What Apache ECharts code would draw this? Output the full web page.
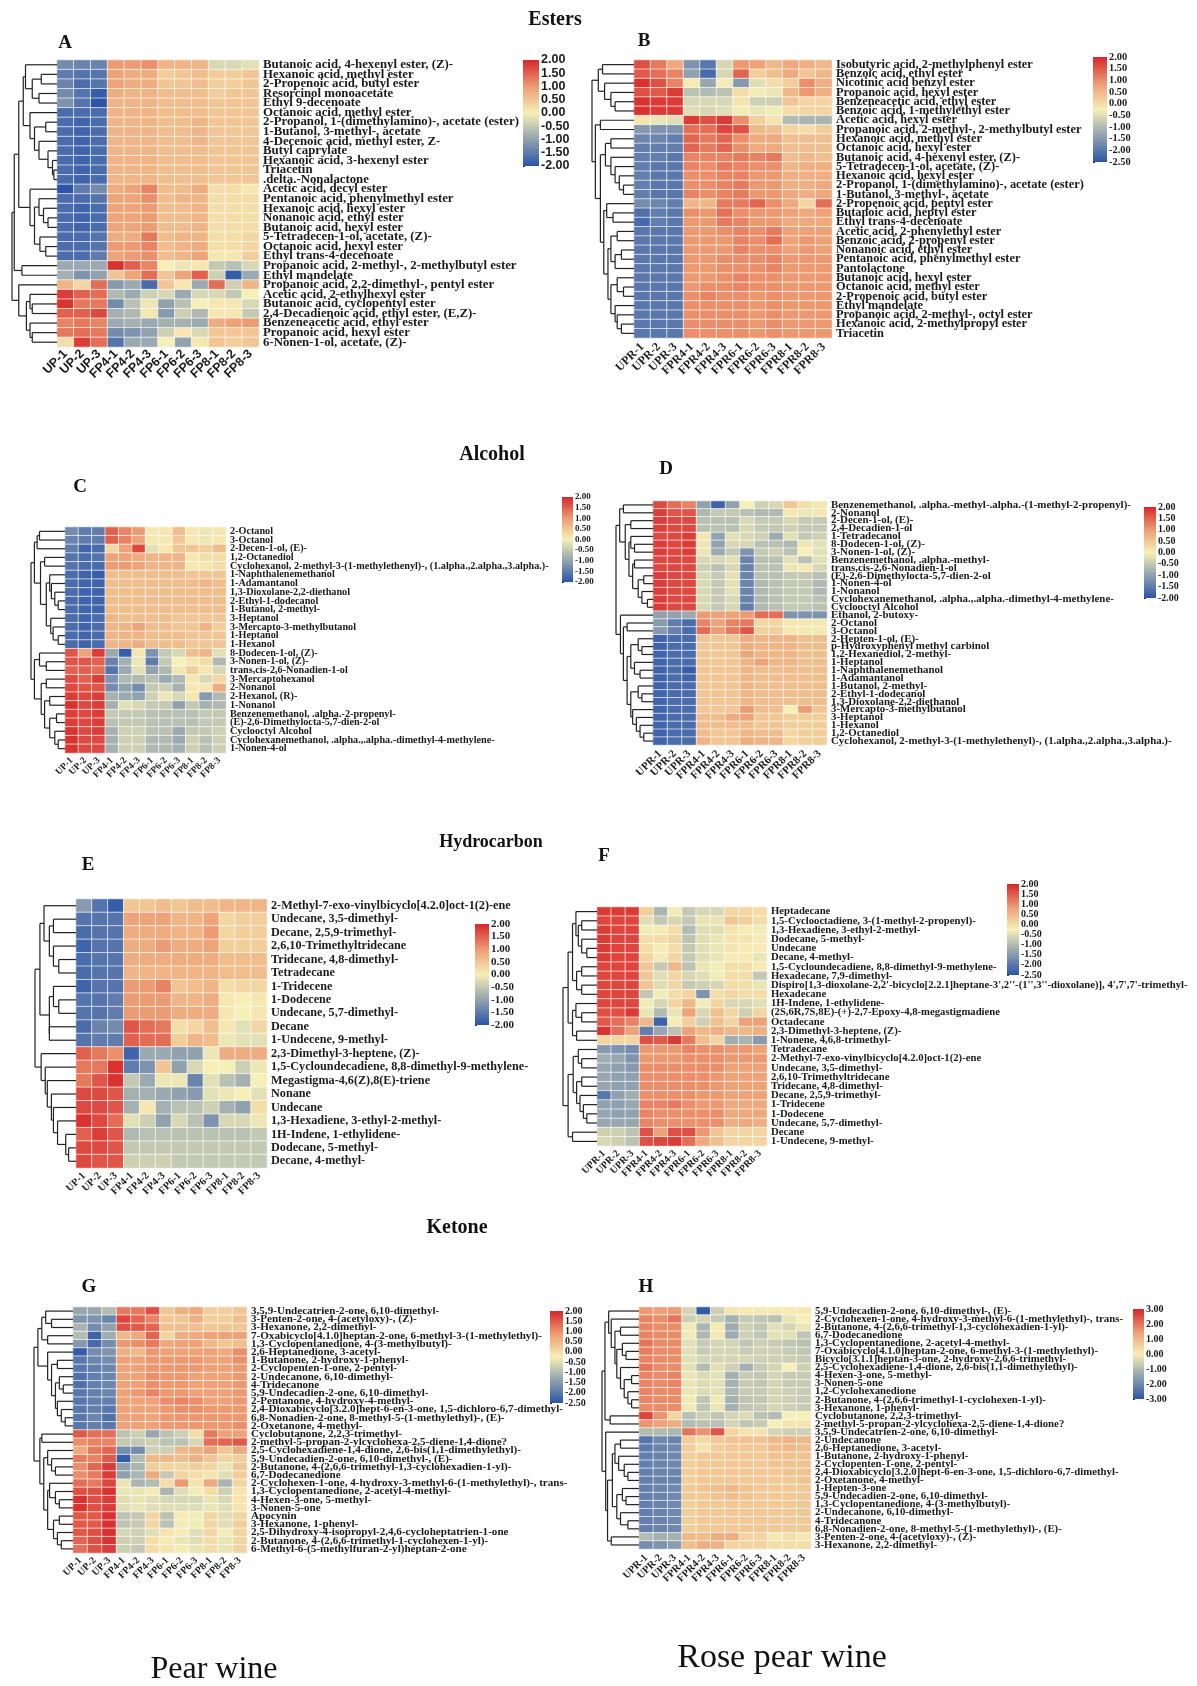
<!DOCTYPE html>
<html><head><meta charset="utf-8">
<style>html,body{margin:0;padding:0;background:#fff}#c{width:1197px;height:1686px}</style>
<script src="https://cdn.jsdelivr.net/npm/echarts@6/dist/echarts.min.js"></script>
</head><body><div id="c"></div>
<script>
const samplesPear=["UP-1","UP-2","UP-3","FP4-1","FP4-2","FP4-3","FP6-1","FP6-2","FP6-3","FP8-1","FP8-2","FP8-3"];
const samplesRose=["UPR-1","UPR-2","UPR-3","FPR4-1","FPR4-2","FPR4-3","FPR6-1","FPR6-2","FPR6-3","FPR8-1","FPR8-2","FPR8-3"];

const rowsA=["Butanoic acid, 4-hexenyl ester, (Z)-","Hexanoic acid, methyl ester","2-Propenoic acid, butyl ester","Resorcinol monoacetate","Ethyl 9-decenoate","Octanoic acid, methyl ester","2-Propanol, 1-(dimethylamino)-, acetate (ester)","1-Butanol, 3-methyl-, acetate","4-Decenoic acid, methyl ester, Z-","Butyl caprylate","Hexanoic acid, 3-hexenyl ester","Triacetin",".delta.-Nonalactone","Acetic acid, decyl ester","Pentanoic acid, phenylmethyl ester","Hexanoic acid, hexyl ester","Nonanoic acid, ethyl ester","Butanoic acid, hexyl ester","5-Tetradecen-1-ol, acetate, (Z)-","Octanoic acid, hexyl ester","Ethyl trans-4-decenoate","Propanoic acid, 2-methyl-, 2-methylbutyl ester","Ethyl mandelate","Propanoic acid, 2,2-dimethyl-, pentyl ester","Acetic acid, 2-ethylhexyl ester","Butanoic acid, cyclopentyl ester","2,4-Decadienoic acid, ethyl ester, (E,Z)-","Benzeneacetic acid, ethyl ester","Propanoic acid, hexyl ester","6-Nonen-1-ol, acetate, (Z)-"];
const valuesA=[
[-1.3,-1.4,-1.4,1,1,1.1,.7,.7,.7,-.3,-.3,-.2],
[-1.5,-1.6,-1.6,.9,.8,.8,.4,.5,.6,.4,.4,.5],
[-1.4,-1.7,-1.6,.9,.8,.8,.5,.5,.6,.4,.4,.5],
[-1.3,-1.6,-1.9,.8,.7,.7,.6,.6,.6,.4,.5,.5],
[-1.2,-1.6,-2,.7,.7,.7,.6,.6,.6,.5,.5,.5],
[-1.7,-1.7,-1.7,.7,.7,.7,.6,.6,.6,.5,.5,.5],
[-1.7,-1.8,-1.7,.7,.7,.7,.6,.6,.7,.5,.5,.5],
[-1.7,-1.8,-1.7,.7,.7,.7,.6,.6,.7,.5,.5,.5],
[-1.7,-1.8,-1.7,.7,.7,.7,.6,.6,.7,.5,.5,.5],
[-1.7,-1.8,-1.7,.7,.7,.7,.6,.6,.6,.5,.5,.5],
[-1.7,-1.8,-1.7,.7,.7,.7,.6,.6,.6,.5,.5,.5],
[-1.7,-1.8,-1.7,.7,.7,.7,.6,.6,.6,.5,.5,.5],
[-1.7,-1.8,-1.7,.7,.7,.7,.6,.6,.6,.5,.5,.5],
[-2,-1.5,-1.3,.8,.9,1.2,.6,.6,.8,.2,.2,.1],
[-1.7,-1.7,-1.6,.9,.9,1.1,.6,.7,.7,.2,.2,.2],
[-1.7,-1.8,-1.7,.9,.9,1,.6,.6,.7,.2,.2,.2],
[-1.7,-1.8,-1.7,.9,.9,1,.6,.6,.7,.2,.2,.2],
[-1.7,-1.8,-1.7,.9,.9,1,.6,.6,.7,.2,.2,.2],
[-1.7,-1.7,-1.6,.8,.8,1.3,.6,.7,.7,.2,.2,.3],
[-1.7,-1.7,-1.6,1,1,1.2,.6,.7,.8,.2,.2,.3],
[-1.7,-1.7,-1.5,.9,1,1.1,.6,.7,.9,.1,.1,.4],
[-.9,-.9,-.9,1.9,1.5,1.2,0,-.1,.1,-.5,-.6,-.3],
[-.8,-1.2,-1,.5,.9,1.4,.5,.9,1.5,-.4,-1.9,-.9],
[.7,.3,1.4,-1.1,-.9,-1.7,.5,.1,-.9,1.4,-.4,.7],
[1.8,1.5,1.4,-.7,-.9,-.4,-.3,-.9,-.3,-.3,-.5,0],
[1.9,1.3,1.3,-1.3,-.6,-.1,-1,-.6,0,.1,.1,-.3],
[1.5,1.5,1.7,-.8,-.7,.1,-1.1,-.4,-.7,.1,.1,-.5],
[1.2,1.3,1.2,-.9,-.8,-.9,-.8,-.8,-.9,.8,.9,1],
[1.3,1.4,1.3,-1.3,-1.2,-1,-.4,.1,-.3,.5,.5,.5],
[.2,1.8,1.4,-1.6,-.9,-.9,0,-1,.1,.5,.4,.5]];
const treeA=[1,[.95,[.85,[.75,[.7,0,[.55,[.35,0,0],[.4,0,0]]],[.6,0,[.5,[.25,0,0],[.4,0,[.2,0,[.1,0,[.07,0,0]]]]]]],[.6,0,[.5,[.4,0,[.3,0,[.2,0,0]]],[.38,0,[.25,0,0]]]]],[.78,0,0]],[.85,0,[.68,[.6,0,[.55,0,0]],[.6,0,[.55,0,0]]]]];

const rowsB=["Isobutyric acid, 2-methylphenyl ester","Benzoic acid, ethyl ester","Nicotinic acid benzyl ester","Propanoic acid, hexyl ester","Benzeneacetic acid, ethyl ester","Benzoic acid, 1-methylethyl ester","Acetic acid, hexyl ester","Propanoic acid, 2-methyl-, 2-methylbutyl ester","Hexanoic acid, methyl ester","Octanoic acid, hexyl ester","Butanoic acid, 4-hexenyl ester, (Z)-","5-Tetradecen-1-ol, acetate, (Z)-","Hexanoic acid, hexyl ester","2-Propanol, 1-(dimethylamino)-, acetate (ester)","1-Butanol, 3-methyl-, acetate","2-Propenoic acid, pentyl ester","Butanoic acid, heptyl ester","Ethyl trans-4-decenoate","Acetic acid, 2-phenylethyl ester","Benzoic acid, 2-propenyl ester","Nonanoic acid, ethyl ester","Pentanoic acid, phenylmethyl ester","Pantolactone","Butanoic acid, hexyl ester","Octanoic acid, methyl ester","2-Propenoic acid, butyl ester","Ethyl mandelate","Propanoic acid, 2-methyl-, octyl ester","Hexanoic acid, 2-methylpropyl ester","Triacetin"];
const valuesB=[
[1.6,1.2,.7,-1.6,-2,-.6,.9,.8,.5,.7,.6,.5],
[1.5,1.3,1.1,-1.4,-2.2,-.6,1.4,.2,.4,.7,.3,.5],
[1.9,1.6,1.1,-.2,-1.3,-.3,-1.5,-.5,0,.2,1,.6],
[1.6,1.5,1.8,-.9,-1,-.9,0,-.3,-.4,.5,.9,.6],
[1.9,1.8,1.8,-.6,-.6,-.6,-.1,-.7,-.7,.3,.1,.1],
[1.9,1.8,1.8,-.5,-.6,-.5,-.3,-.4,-.3,0,.1,.1],
[-.1,-.4,-.5,1.8,1.6,1.8,1,.2,-.1,-1,-1.1,-1.1],
[-1.5,-1.6,-1.6,1.3,1.3,1.7,1.6,.5,.4,.1,0,.2],
[-1.8,-1.8,-1.9,1.4,1.2,1.4,1,.7,.7,.4,.4,.4],
[-1.9,-1.9,-1.9,1.4,1.2,1.4,1,.7,.7,.4,.4,.4],
[-1.9,-1.9,-2,1.1,1.1,1.1,1.2,1.1,1.2,.4,.5,.4],
[-1.9,-2,-2,1.1,1,1.2,1.1,1,1,.5,.6,.6],
[-1.9,-2,-2,1,1,1.1,1.1,.9,.9,.6,.6,.6],
[-1.9,-2,-2,1,1,1.1,1.2,.9,.9,.6,.6,.7],
[-1.9,-2,-2,1.1,1,1.1,1.2,.9,.9,.7,.6,.7],
[-1.7,-1.8,-1.9,.5,.5,1.2,1.2,1.4,1,.7,.1,1.3],
[-2.1,-1.9,-2,1,.9,1.3,1,.9,.9,.8,.7,.8],
[-2.2,-1.9,-2,.9,.9,1.2,1.1,.9,.9,.7,.7,.7],
[-2,-2,-2,.9,.9,1,1.1,1,1.2,.8,.8,.8],
[-2,-2,-2,.9,.9,.9,1.1,1,1.3,.8,.9,.8],
[-2,-2,-2,.9,.9,.9,1.1,1,1,.8,.9,.8],
[-2,-2,-2,.9,.9,1,1,1,1.1,.9,.9,.9],
[-2,-2,-2,.9,.9,1,1,1,1.1,.9,.9,.9],
[-2,-2,-2,.9,.9,1,1.1,1,1,.9,.9,.9],
[-2,-2,-2,.9,1,1,1.1,1,1,.9,.9,.9],
[-2,-2,-2,1,1.1,1,1,.9,1,.9,.9,.9],
[-2,-2,-2,1,1,1,1,.9,1,.9,.9,.9],
[-2,-2,-2,1,1,1,1,.9,1,.9,.9,.9],
[-2,-2,-2,1,1,1,1,.9,1,.9,.9,.9],
[-2,-2,-2,1,1,1,1,.9,1,.9,.9,.9]];
const treeB=[1,[.85,[.75,0,0],[.7,0,[.55,0,[.45,0,0]]]],[.92,[.8,0,0],[.8,[.68,[.55,0,0],[.55,0,[.45,0,[.35,0,[.25,0,0]]]]],[.72,[.65,0,[.5,0,0]],[.62,[.55,[.4,0,0],[.45,[.3,0,0],0]],[.55,[.4,0,[.25,0,0]],[.45,0,[.4,0,[.3,0,0]]]]]]]]];

const rowsC=["2-Octanol","3-Octanol","2-Decen-1-ol, (E)-","1,2-Octanediol","Cyclohexanol, 2-methyl-3-(1-methylethenyl)-, (1.alpha.,2.alpha.,3.alpha.)-","1-Naphthalenemethanol","1-Adamantanol","1,3-Dioxolane-2,2-diethanol","2-Ethyl-1-dodecanol","1-Butanol, 2-methyl-","3-Heptanol","3-Mercapto-3-methylbutanol","1-Heptanol","1-Hexanol","8-Dodecen-1-ol, (Z)-","3-Nonen-1-ol, (Z)-","trans,cis-2,6-Nonadien-1-ol","3-Mercaptohexanol","2-Nonanol","2-Hexanol, (R)-","1-Nonanol","Benzenemethanol, .alpha.-2-propenyl-","(E)-2,6-Dimethylocta-5,7-dien-2-ol","Cyclooctyl Alcohol","Cyclohexanemethanol, .alpha.,.alpha.-dimethyl-4-methylene-","1-Nonen-4-ol"];
const valuesC=[
[-1.3,-1.5,-1.5,1.5,1.2,1,.1,.1,.6,.1,-.1,.1],
[-1.4,-1.5,-1.5,1.5,1.2,.9,.1,.1,.5,.1,-.1,.1],
[-1.5,-1.8,-1.7,.3,.9,1.7,-.2,.1,.5,.5,.4,.6],
[-1.6,-1.7,-1.6,.9,.9,.8,.7,.7,.7,.1,.2,.2],
[-1.6,-1.7,-1.7,1,1,.9,.7,.7,.7,.1,.1,.2],
[-1.7,-1.8,-1.9,.6,.6,.6,.6,.6,.6,.5,.5,.5],
[-1.7,-1.8,-1.8,.6,.6,.6,.6,.6,.6,.6,.7,.6],
[-1.7,-1.8,-1.8,.6,.6,.6,.6,.6,.6,.6,.6,.6],
[-1.7,-1.8,-1.8,.6,.6,.6,.6,.6,.6,.6,.6,.6],
[-1.7,-1.8,-1.8,.6,.6,.6,.6,.6,.6,.6,.6,.6],
[-1.7,-1.8,-1.7,.7,.6,.6,.6,.6,.5,.5,.5,.5],
[-1.7,-1.8,-1.7,.7,.7,.9,.6,.6,.5,.5,.7,.4],
[-1.7,-1.8,-1.7,.7,.7,.7,.6,.6,.6,.5,.5,.5],
[-1.7,-1.8,-1.7,.7,.7,.8,.6,.6,.6,.5,.5,.5],
[1.6,.9,1.8,-.9,-1.9,.1,-1.2,-.5,-.3,.6,.7,-.2],
[1.6,1.6,1.5,-1.4,-.8,-.1,-1.5,-.5,0,.1,.2,-.7],
[1.5,1.5,1.4,-1.6,-.9,-.2,-1,-.7,-.1,.4,.1,-.3],
[1.7,1.5,1.8,-1.2,-.7,-.7,-.6,-.9,-.7,.1,-.3,.3],
[1.7,1.6,1.6,-1.3,-1,-1.3,-.5,-.4,-.8,.1,.1,.8],
[1.8,1.7,1.8,-.8,-.9,-1,-.4,-.1,-.3,.1,-1.1,-.7],
[1.9,1.7,1.8,-.8,-.2,-.3,-.5,-.5,-1,-.5,-.8,-.7],
[1.8,1.7,1.8,-.5,-.5,-.5,-.6,-.6,-.6,-.6,-.5,-.5],
[1.8,1.7,1.8,-.6,-.5,-.5,-.6,-.6,-.6,-.6,-.5,-.5],
[1.9,1.7,1.8,-.8,-.4,-.4,-.6,-.6,-.9,-.5,-.5,-.4],
[1.9,1.7,1.7,-.8,-.4,-.4,-.7,-.7,-.9,-.4,-.6,-.4],
[1.9,1.7,1.7,-.8,-.4,-.4,-.7,-.7,-.8,-.4,-.6,-.4]];
const treeC=[1,[.9,[.82,[.75,0,0],0],[.72,[.6,0,0],[.55,[.45,0,[.4,0,[.3,0,[.2,0,0]]]],[.42,0,[.35,0,[.2,0,0]]]]]],[.9,[.75,0,[.55,0,0]],[.7,[.55,0,0],[.6,[.45,0,0],[.45,[.25,0,0],[.3,0,[.2,0,0]]]]]]];

const rowsD=["Benzenemethanol, .alpha.-methyl-.alpha.-(1-methyl-2-propenyl)-","2-Nonanol","2-Decen-1-ol, (E)-","2,4-Decadien-1-ol","1-Tetradecanol","8-Dodecen-1-ol, (Z)-","3-Nonen-1-ol, (Z)-","Benzenemethanol, .alpha.-methyl-","trans,cis-2,6-Nonadien-1-ol","(E)-2,6-Dimethylocta-5,7-dien-2-ol","1-Nonen-4-ol","1-Nonanol","Cyclohexanemethanol, .alpha.,.alpha.-dimethyl-4-methylene-","Cyclooctyl Alcohol","Ethanol, 2-butoxy-","2-Octanol","3-Octanol","2-Hepten-1-ol, (E)-","p-Hydroxyphenyl methyl carbinol","1,2-Hexanediol, 2-methyl-","1-Heptanol","1-Naphthalenemethanol","1-Adamantanol","1-Butanol, 2-methyl-","2-Ethyl-1-dodecanol","1,3-Dioxolane-2,2-diethanol","3-Mercapto-3-methylbutanol","3-Heptanol","1-Hexanol","1,2-Octanediol","Cyclohexanol, 2-methyl-3-(1-methylethenyl)-, (1.alpha.,2.alpha.,3.alpha.)-"];
const valuesD=[
[1.7,1.4,1.2,-1,-1.8,-1,0,-.4,-.3,.5,.2,.1],
[1.8,1.6,1.6,-.7,-.5,-.5,-.6,-.7,-.7,.1,-.1,.1],
[1.8,1.7,1.7,-.6,-.6,-.6,-.3,-.5,-.5,-.3,-.5,-.5],
[1.8,1.7,1.7,-.6,-.6,-.6,-.3,-.5,-.5,-.4,-.5,-.5],
[1.7,1.7,1.8,.1,-1,-.2,-.3,-.4,-.9,-.2,-.5,-.4],
[1.8,1.7,1.8,-.1,-1,-.3,-.3,-.6,-.6,-.7,-.1,-.2],
[1.8,1.7,1.8,-.1,-.9,-.5,-1.2,-.5,-.4,-.6,0,-.2],
[1.7,1.7,1.7,-.3,-.3,-.2,-1.4,-.6,-.6,-.2,-.6,-.2],
[1.7,1.7,1.7,-.4,-.6,-.3,-1.4,-.6,-.6,-.1,.1,-.3],
[1.8,1.7,1.7,-.3,-.5,-.2,-1.4,-.6,-.6,-.5,-.5,-.6],
[1.8,1.7,1.7,-.3,-.5,-.2,-1.4,-.7,-.6,-.5,-.5,-.7],
[1.8,1.7,1.7,-.3,-.5,-.2,-1.4,-.7,-.6,-.5,-.5,-.7],
[1.8,1.7,1.7,-.3,-.5,-.3,-1.4,-.7,-.6,-.5,-.5,-.6],
[1.8,1.7,1.7,-.3,-.5,-.3,-1.5,-.7,-.6,-.5,-.5,-.6],
[-1,-1,-.9,1,.9,.9,1,1.4,1.4,-1.2,-1.2,-1.2],
[-1.1,-1.5,-1.7,1.2,.9,1.2,1.3,.3,.3,.1,.1,.1],
[-1.1,-1.4,-1.7,1.4,1,1.3,1.6,.4,.4,.1,.1,.1],
[-1.8,-1.7,-1.7,.5,.5,.5,.8,.7,.7,.7,.6,.6],
[-1.8,-1.7,-1.7,.5,.5,.5,.8,.7,.7,.7,.6,.6],
[-1.8,-1.7,-1.7,.5,.5,.5,.9,.7,.7,.7,.6,.6],
[-1.8,-1.7,-1.7,.5,.5,.5,.7,.9,.7,.7,.6,.6],
[-1.8,-1.7,-1.9,.5,.5,.5,.7,.6,.6,.6,.6,.6],
[-1.8,-1.7,-1.8,.5,.5,.5,.7,.6,.6,.6,.6,.6],
[-1.8,-1.7,-1.7,.5,.5,.5,.7,.6,.6,.6,.6,.6],
[-1.8,-1.7,-1.7,.5,.5,.5,.7,.6,.6,.6,.6,.6],
[-1.8,-1.7,-1.7,.5,.5,.5,.7,.6,.6,.6,.6,.6],
[-1.8,-1.7,-1.7,.5,.5,.5,1,.6,.6,0,1,.5],
[-1.8,-1.7,-1.7,.6,.6,.8,.9,.5,.5,.4,.4,.4],
[-1.8,-1.7,-1.7,.6,.6,.6,.6,.5,.5,.4,.4,.4],
[-1.8,-1.7,-1.7,.6,.5,.5,.7,.6,.6,.3,.4,.4],
[-1.8,-1.7,-1.7,.7,.5,.5,.8,.7,.7,.3,.4,.4]];
const treeD=[1,[.9,[.8,0,0],[.75,[.6,0,0],[.65,[.6,0,[.5,0,0]],[.55,[.5,0,0],[.4,[.25,0,0],[.3,0,[.15,0,0]]]]]]],[.88,0,[.8,[.7,0,0],[.7,[.6,[.4,0,[.3,0,0]],[.5,0,[.35,0,0]]],[.6,[.4,0,[.3,0,0]],[.55,0,[.45,0,[.35,0,[.25,0,0]]]]]]]]];

const rowsE=["2-Methyl-7-exo-vinylbicyclo[4.2.0]oct-1(2)-ene","Undecane, 3,5-dimethyl-","Decane, 2,5,9-trimethyl-","2,6,10-Trimethyltridecane","Tridecane, 4,8-dimethyl-","Tetradecane","1-Tridecene","1-Dodecene","Undecane, 5,7-dimethyl-","Decane","1-Undecene, 9-methyl-","2,3-Dimethyl-3-heptene, (Z)-","1,5-Cycloundecadiene, 8,8-dimethyl-9-methylene-","Megastigma-4,6(Z),8(E)-triene","Nonane","Undecane","1,3-Hexadiene, 3-ethyl-2-methyl-","1H-Indene, 1-ethylidene-","Dodecane, 5-methyl-","Decane, 4-methyl-"];
const valuesE=[
[-1.1,-1.6,-1.9,.5,.5,.6,.5,.6,.6,.7,.7,.7],
[-1.6,-1.6,-1.6,.9,.9,.9,.7,.7,.9,.3,.4,.4],
[-1.7,-1.6,-1.6,.8,.8,.8,.7,.7,1,.3,.4,.4],
[-1.8,-1.6,-1.6,.8,.8,1,.8,.8,.9,.4,.4,.4],
[-1.7,-1.6,-1.6,.8,.8,.8,.8,.8,.8,.6,.6,.6],
[-1.7,-1.6,-1.6,.7,.7,.7,.7,.7,.7,.6,.6,.6],
[-1.8,-1.6,-1.6,1,1,1.2,.5,.6,.7,.2,.3,.3],
[-1.6,-1.6,-1.5,1,1,1,.7,.7,.8,.1,0,.1],
[-1.6,-1.6,-1.5,1,1,1,.8,.8,.8,.1,0,.1],
[-1.7,-1.4,-1.3,1.6,1.4,1.3,.2,.3,.6,.1,-.2,.3],
[-1.6,-1.5,-1.5,1.5,1.4,1.4,.4,.7,.6,-.1,-.2,-.2],
[1.5,1.3,1.1,-1.8,-.9,-.9,-1,-1,-.1,.8,.8,.8],
[1.3,1.3,1.9,-1.5,-1.2,.5,-1,-.3,0,0,-.4,-.1],
[1.3,1.6,1.9,-.5,-.9,-.1,-.1,-1.4,-.2,-.6,-.8,0],
[1.7,1.7,1.6,-.8,-.8,-.9,-1,-1.1,-.2,-.1,0,-.2],
[1.7,1.7,1.6,-.8,.1,-.8,-.6,-.6,-.4,-.8,-1,.2],
[1.9,1.7,1.4,-.2,-.4,-1,-.3,-.6,-1.2,-.3,-.3,-.1],
[1.5,1.8,1.6,-.7,-.6,-.6,-.6,-.6,-.6,-.6,-.6,-.5],
[1.7,1.7,1.6,-.5,-.5,-.5,-.5,-.5,-.5,-.5,-.5,-.5],
[1.7,1.6,1.6,-.4,-.4,-.4,-.5,-.5,-.5,-.5,-.5,-.5]];
const treeE=[1,[.88,[.78,0,[.65,[.55,0,0],[.55,0,[.42,0,0]]]],[.65,[.55,0,[.42,0,0]],[.65,0,0]]],[.85,0,[.75,0,[.7,0,[.6,0,[.55,0,[.45,0,[.25,0,[.18,0,0]]]]]]]]];

const rowsF=["Heptadecane","1,5-Cyclooctadiene, 3-(1-methyl-2-propenyl)-","1,3-Hexadiene, 3-ethyl-2-methyl-","Dodecane, 5-methyl-","Undecane","Decane, 4-methyl-","1,5-Cycloundecadiene, 8,8-dimethyl-9-methylene-","Hexadecane, 7,9-dimethyl-","Dispiro[1,3-dioxolane-2,2'-bicyclo[2.2.1]heptane-3',2''-(1'',3''-dioxolane)], 4',7',7'-trimethyl-","Hexadecane","1H-Indene, 1-ethylidene-","(2S,6R,7S,8E)-(+)-2,7-Epoxy-4,8-megastigmadiene","Octadecane","2,3-Dimethyl-3-heptene, (Z)-","1-Nonene, 4,6,8-trimethyl-","Tetradecane","2-Methyl-7-exo-vinylbicyclo[4.2.0]oct-1(2)-ene","Undecane, 3,5-dimethyl-","2,6,10-Trimethyltridecane","Tridecane, 4,8-dimethyl-","Decane, 2,5,9-trimethyl-","1-Tridecene","1-Dodecene","Undecane, 5,7-dimethyl-","Decane","1-Undecene, 9-methyl-"];
const valuesF=[
[1.8,1.8,1.8,.2,-1.1,-.3,-.8,-.6,-.6,.1,.1,0],
[1.7,1.7,1.7,-.5,-.8,-.6,-.8,-.4,-.4,.3,.2,0],
[1.8,1.7,1.7,-.3,-.2,0,-1,-.5,-.5,-.1,-.2,-.3],
[1.8,1.7,1.7,0,0,.1,-.9,-.5,-.4,-.1,-.1,-.2],
[1.8,1.7,1.7,0,-.2,0,-.8,-.5,-.4,-.1,-.2,-.2],
[1.8,1.7,1.7,.1,-.2,.1,-.8,-.5,-.4,-.2,-.2,-.4],
[1.7,1.7,1.7,.3,-.8,.5,-.9,-.4,-.3,0,0,-.2],
[1.7,1.7,1.7,.3,-.5,.1,-.6,-.5,-.3,0,0,-.8],
[1.7,1.7,1.7,.3,-.5,.1,-.8,-.7,-.6,0,0,-.4],
[1.7,1.7,1.7,-.8,-.3,0,.1,-1.6,0,.1,0,0],
[1.7,1.7,1.7,-.3,-.6,.1,.5,-.3,.1,-.6,-.6,-.5],
[1.6,1.6,1.8,-.4,-1,-.4,.8,-.6,.4,.1,-.7,.1],
[1.5,1.3,1.1,.5,-2.3,-.2,.2,-.7,.4,.1,.8,.8],
[1.9,1.3,.8,-1.9,-1.3,-.9,.8,.5,.6,.5,.5,.6],
[.1,.1,.1,1.6,1.5,1.8,1.2,.4,.1,-1.2,-1.1,-1.5],
[-1.5,-1.6,-1.7,.9,.9,.9,1.1,1,1,.9,.9,.8],
[-1.2,-1.3,-1.6,.9,.9,.9,1,1,1,.9,.9,.9],
[-1.3,-1.4,-1.5,1,1,1,1,1,1,.8,.8,.8],
[-1.3,-1.4,-1.4,1,1,1,1,1,.9,.8,.8,.8],
[-1.3,-1.4,-1.4,1,1,1,1,1,.9,.8,.8,.8],
[-2,-1.4,-1.2,1,1,1,1,.9,.9,.8,.8,.8],
[-1.4,-1.4,-1.3,1.1,1.1,1.2,1,.9,.9,.7,.7,.7],
[-1.3,-1.4,-1.4,1.1,1,1,1,1,1,.7,.7,.7],
[-1.3,-1.3,-1.3,1.1,1,1,1,1,1,.6,.7,.6],
[-.7,-.7,-.9,1.6,.8,1.6,1.6,.9,.3,.1,.1,.1],
[-.6,-.7,-.9,1.6,1.7,1.8,1.3,.7,.4,.1,.1,.1]];
const treeF=[1,[.85,[.72,[.62,0,[.55,[.45,0,0],[.45,0,[.3,0,0]]]],[.6,[.45,0,0],[.45,0,0]]],[.72,[.62,0,[.45,0,0]],[.6,0,0]]],[.85,[.7,[.55,0,[.45,0,0]],[.6,[.45,0,0],[.5,0,[.4,0,[.3,0,0]]]]],[.72,0,0]]];

const rowsG=["3,5,9-Undecatrien-2-one, 6,10-dimethyl-","3-Penten-2-one, 4-(acetyloxy)-, (Z)-","3-Hexanone, 2,2-dimethyl-","7-Oxabicyclo[4.1.0]heptan-2-one, 6-methyl-3-(1-methylethyl)-","1,3-Cyclopentanedione, 4-(3-methylbutyl)-","2,6-Heptanedione, 3-acetyl-","1-Butanone, 2-hydroxy-1-phenyl-","2-Cyclopenten-1-one, 2-pentyl-","2-Undecanone, 6,10-dimethyl-","4-Tridecanone","5,9-Undecadien-2-one, 6,10-dimethyl-","2-Pentanone, 4-hydroxy-4-methyl-","2,4-Dioxabicyclo[3.2.0]hept-6-en-3-one, 1,5-dichloro-6,7-dimethyl-","6,8-Nonadien-2-one, 8-methyl-5-(1-methylethyl)-, (E)-","2-Oxetanone, 4-methyl-","Cyclobutanone, 2,2,3-trimethyl-","2-methyl-5-propan-2-ylcyclohexa-2,5-diene-1,4-dione?","2,5-Cyclohexadiene-1,4-dione, 2,6-bis(1,1-dimethylethyl)-","5,9-Undecadien-2-one, 6,10-dimethyl-, (E)-","2-Butanone, 4-(2,6,6-trimethyl-1,3-cyclohexadien-1-yl)-","6,7-Dodecanedione","2-Cyclohexen-1-one, 4-hydroxy-3-methyl-6-(1-methylethyl)-, trans-","1,3-Cyclopentanedione, 2-acetyl-4-methyl-","4-Hexen-3-one, 5-methyl-","3-Nonen-5-one","Apocynin","3-Hexanone, 1-phenyl-","2,5-Dihydroxy-4-isopropyl-2,4,6-cycloheptatrien-1-one","2-Butanone, 4-(2,6,6-trimethyl-1-cyclohexen-1-yl)-","6-Methyl-6-(5-methylfuran-2-yl)heptan-2-one"];
const valuesG=[
[-1.3,-1.3,-1,1.2,1.2,1.6,.3,.6,.7,.2,.2,.3],
[-1.6,-1.6,-1.8,1.7,1.4,1.1,.3,.3,.6,.2,.2,.4],
[-1.1,-1.7,-1.4,1.6,1.5,1.4,.4,.4,.4,.3,.3,.3],
[-1,-2.3,-1.2,.5,.7,1.4,.1,.6,.7,.8,.8,.8],
[-1.5,-2.2,-1.7,.9,1,1.2,.7,.8,.8,.5,.3,.4],
[-2.4,-1.7,-1.6,.6,.5,.9,.8,.8,.8,.8,.7,1],
[-2,-1.8,-1.7,.8,.8,.9,.9,.9,.9,.8,.8,1],
[-2,-1.9,-1.8,.8,.8,.9,.9,.9,.9,.8,.8,.9],
[-2.1,-1.9,-1.8,.8,.8,1,.9,.9,.8,.8,.8,.9],
[-2.1,-1.9,-1.8,.8,.8,1,.9,.9,.8,.8,.8,.9],
[-2,-1.9,-1.8,.8,.9,1.1,.9,.9,.8,.8,.8,.9],
[-2,-1.9,-1.9,.8,.8,.8,1,1.1,1,.8,.8,.9],
[-2,-1.9,-2,.8,.8,.8,.9,1,1,.9,.9,.9],
[-2,-1.8,-2.1,.8,.8,.8,.9,.9,.9,.9,.9,.9],
[-2,-1.9,-2,.8,.8,.8,.9,.9,.9,.9,.9,1],
[1.5,1.3,1.3,-.9,-.7,-1.3,-.9,-.7,0,1.2,.8,.8],
[1,1.1,1.1,-.8,-.8,-.7,-.9,-.9,-.6,1.3,1.4,1.5],
[.7,1.2,1.4,-1.7,-1.7,-.7,-.7,.5,.6,.8,.3,.7],
[1.2,1.1,1.5,-2.4,-1,.5,.5,.4,.6,.3,.1,.2],
[1,1.4,1.8,-1.4,-1.1,.2,.1,.1,.2,.1,-.4,.3],
[1,1.2,1.8,-1.4,-1.1,.7,-.8,.1,0,-.1,-.5,.2],
[1.3,1.2,1.7,-.4,-1.1,-1,0,.9,-.1,.7,-1.1,.1],
[1.6,1.6,1.9,-.4,-.4,-.2,-1.1,-.5,-.3,0,-.7,-.1],
[1.9,1.6,1.8,-.5,-.4,-.5,-.6,-.6,-.6,-.4,-.6,-.1],
[1.9,1.6,1.8,-.5,-.4,-.5,-.5,-.5,-.5,-.4,-.5,-.1],
[1.5,1.5,1.9,-.9,-.8,.1,-.9,-.2,-.3,.1,-.5,.1],
[1.5,1.5,1.9,-.9,-.8,.1,-.9,-.3,-.3,.1,-.5,.2],
[1.5,1.6,1.9,-.6,-.7,-.5,-.1,-.2,-.5,.1,-.3,.1],
[1.4,1.6,1.9,-.7,-.7,0,-.2,-.4,-.5,0,-.4,.1],
[1.3,1.6,1.8,-.7,-.8,0,-.1,-.2,-.4,0,-.4,.1]];
const treeG=[1,[.9,[.8,[.7,0,[.55,0,0]],[.65,0,0]],[.65,0,[.55,[.4,0,0],[.45,[.35,0,[.25,0,0]],[.4,0,[.3,0,[.2,0,0]]]]]]],[.85,[.8,0,0],[.75,[.65,0,[.55,0,[.45,0,0]]],[.65,[.6,0,[.45,0,[.35,0,0]]],[.5,[.35,0,0],[.4,0,[.3,0,0]]]]]]];

const rowsH=["5,9-Undecadien-2-one, 6,10-dimethyl-, (E)-","2-Cyclohexen-1-one, 4-hydroxy-3-methyl-6-(1-methylethyl)-, trans-","2-Butanone, 4-(2,6,6-trimethyl-1,3-cyclohexadien-1-yl)-","6,7-Dodecanedione","1,3-Cyclopentanedione, 2-acetyl-4-methyl-","7-Oxabicyclo[4.1.0]heptan-2-one, 6-methyl-3-(1-methylethyl)-","Bicyclo[3.1.1]heptan-3-one, 2-hydroxy-2,6,6-trimethyl-","2,5-Cyclohexadiene-1,4-dione, 2,6-bis(1,1-dimethylethyl)-","4-Hexen-3-one, 5-methyl-","3-Nonen-5-one","1,2-Cyclohexanedione","2-Butanone, 4-(2,6,6-trimethyl-1-cyclohexen-1-yl)-","3-Hexanone, 1-phenyl-","Cyclobutanone, 2,2,3-trimethyl-","2-methyl-5-propan-2-ylcyclohexa-2,5-diene-1,4-dione?","3,5,9-Undecatrien-2-one, 6,10-dimethyl-","2-Undecanone","2,6-Heptanedione, 3-acetyl-","1-Butanone, 2-hydroxy-1-phenyl-","2-Cyclopenten-1-one, 2-pentyl-","2,4-Dioxabicyclo[3.2.0]hept-6-en-3-one, 1,5-dichloro-6,7-dimethyl-","2-Oxetanone, 4-methyl-","1-Hepten-3-one","5,9-Undecadien-2-one, 6,10-dimethyl-","1,3-Cyclopentanedione, 4-(3-methylbutyl)-","2-Undecanone, 6,10-dimethyl-","4-Tridecanone","6,8-Nonadien-2-one, 8-methyl-5-(1-methylethyl)-, (E)-","3-Penten-2-one, 4-(acetyloxy)-, (Z)-","3-Hexanone, 2,2-dimethyl-"];
const valuesH=[
[1.5,1.4,1.5,-.5,-2.9,-.6,.2,.1,.1,.1,.1,.1],
[1.8,1.7,2,-.6,-.5,-.7,-1.2,-.7,-.8,-.9,-.2,0],
[1.8,1.7,1.7,-.1,-1.1,.1,-1.3,-.6,-.8,-.3,-.5,-.2],
[1.8,1.7,1.7,-.1,-1.1,.1,-1.3,-.6,-.8,-.3,-.3,-.8],
[2,1.7,1.7,-.3,-.7,-.5,-.5,-.8,-.6,-.7,-.8,-.9],
[1.9,1.7,1.7,-.3,-.7,-.5,-.5,-.7,-.6,-.6,-.7,-.8],
[1.8,1.7,1.7,-.3,-.5,-.5,-.5,-.5,-.6,-.6,-.6,-.7],
[2,1.7,1.7,-.3,-1,-.3,-.6,-1.2,-.7,-.5,0,-.6],
[1.8,1.7,1.8,-.2,-.4,-.3,-1.2,-.7,-.8,-.5,-.7,-.7],
[1.8,1.7,1.8,-.2,-.4,-.3,-1.2,-.7,-.8,-.5,-.7,-.7],
[1.8,1.7,1.7,-.2,-.4,-.3,-1.1,-.7,-.7,-.5,-.6,-.7],
[1.8,1.7,1.7,-.1,-.8,-.1,-1.2,-.8,-.8,-.5,-.6,-.7],
[1.7,1.7,1.7,-.1,-.8,-.2,-1.2,-.8,-.7,-.5,-.6,-.7],
[2.6,1.6,.5,-.9,-.6,-.8,-.5,-.4,-.9,-1,0,0],
[1.6,1.4,1.2,-1,-.9,-.9,-.5,-.8,-.7,0,.2,.2],
[-1,-1,-1.1,2,1.6,2.4,.5,.2,.2,-.5,-.6,-.6],
[-2.4,-2,-2.1,.6,.4,.7,.8,.8,.8,1,1.1,1],
[-2.3,-2.1,-2,.6,.2,.6,.7,.7,.7,.9,1,.9],
[-2.2,-2.1,-2,.6,.7,.7,.7,.7,.7,.8,.8,.8],
[-2.2,-2.1,-2,.6,.7,.7,.7,.7,.7,.8,.8,.8],
[-2.2,-2.1,-2.1,.6,.7,.7,.7,.7,.7,.7,.8,.8],
[-2.2,-2.1,-2.1,.6,.7,.7,.7,.7,.7,.7,.7,.8],
[-2.2,-2.1,-2,.7,.8,.9,1,.8,.7,.7,.7,.7],
[-2.2,-2.1,-2,.7,.7,.8,.9,.8,.7,.7,.7,.7],
[-2.2,-2.1,-2,.6,.7,.7,.7,.7,.7,.7,.7,.7],
[-2.2,-2.1,-2,.6,.7,.7,.7,.7,.7,.7,.7,.7],
[-2.2,-2.1,-2,.6,.7,.7,.7,.7,.7,.7,.7,.7],
[-2.2,-2.1,-2,.6,.7,.7,.7,.7,.7,.7,.7,.7],
[-1,-1.2,-1.2,1,.9,1.2,1.2,.5,.5,.1,.3,.1],
[-1.9,-1.8,-1.6,.9,1.2,1.1,.5,.5,.5,.3,.3,.3]];
const treeH=[1,[.92,[.82,0,[.75,0,[.65,[.5,0,0],[.6,[.45,0,[.35,0,0]],[.5,0,[.4,[.2,0,0],[.3,0,[.2,0,0]]]]]]]],[.78,0,0]],[.9,0,[.85,[.72,[.65,[.5,0,0],[.55,0,[.4,0,[.3,0,0]]]],[.6,[.45,0,[.35,0,0]],[.5,0,[.3,0,0]]]],[.75,0,0]]]];

const rangeA=[-2,2],rangeB=[-2.5,2],rangeC=[-2,2],rangeD=[-2,2],rangeE=[-2,2],rangeF=[-2.5,2],rangeG=[-2.5,2],rangeH=[-3,3];

// layout (pixels): heat x0,x1,y0,y1 ; dendro x0 ; colourbar x0,x1,y0,y1 ; fonts
const SERIF='"Liberation Serif","Times New Roman",serif', SANS='"Liberation Sans",Arial,sans-serif';
const panels=[
 {s:samplesPear,r:rowsA,v:valuesA,t:treeA,rg:rangeA,h:[57,259,60,347],d:12,c:[523,539,60,166],fs:12.8,xf:SANS,xs:12.5,xm:5,cf:SANS,cs:12.5,iv:.5},
 {s:samplesRose,r:rowsB,v:valuesB,t:treeB,rg:rangeB,h:[634,832,60,338],d:592,c:[1093,1107,57,162],fs:12.4,xf:SERIF,xs:12,xm:7,cf:SERIF,cs:10.4,iv:.5},
 {s:samplesPear,r:rowsC,v:valuesC,t:treeC,rg:rangeC,h:[65,226,527,753],d:31,c:[562,573,497,582],fs:10.2,xf:SERIF,xs:9.5,xm:6,cf:SERIF,cs:9,iv:.5},
 {s:samplesRose,r:rowsD,v:valuesD,t:treeD,rg:rangeD,h:[653,827,501,745],d:616,c:[1144,1156,507,598],fs:10.9,xf:SERIF,xs:11,xm:7,cf:SERIF,cs:10,iv:.5},
 {s:samplesPear,r:rowsE,v:valuesE,t:treeE,rg:rangeE,h:[76,267,899,1168],d:35,c:[475,489,924,1025],fs:12.2,xf:SERIF,xs:10.5,xm:6,cf:SERIF,cs:11,iv:.5},
 {s:samplesRose,r:rowsF,v:valuesF,t:treeF,rg:rangeF,h:[597,767,907,1146],d:563,c:[1007,1019,884,975],fs:10.7,xf:SERIF,xs:10,xm:6,cf:SERIF,cs:10,iv:.5},
 {s:samplesPear,r:rowsG,v:valuesG,t:treeG,rg:rangeG,h:[73,247,1307,1553],d:34,c:[550,563,1311,1403],fs:11.1,xf:SERIF,xs:10,xm:6,cf:SERIF,cs:10,iv:.5},
 {s:samplesRose,r:rowsH,v:valuesH,t:treeH,rg:rangeH,h:[639,811,1307,1549],d:602,c:[1133,1144,1309,1399],fs:10.8,xf:SERIF,xs:10.5,xm:7,cf:SERIF,cs:10,iv:1}
];
const ramp=['#2c55a8','#f6efb6','#ec9c72','#d7262a'];
const rampStops=[{offset:0,color:ramp[3]},{offset:.25,color:ramp[2]},{offset:.5,color:ramp[1]},{offset:1,color:ramp[0]}];

function dendroSegments(tree){
  let next=0; const out=[];
  (function walk(n){
    if(!Array.isArray(n)) return {h:0,y:next++};
    const a=walk(n[1]), b=walk(n[2]), h=n[0];
    out.push([a.h,a.y,h,a.y],[b.h,b.y,h,b.y],[h,a.y,h,b.y]);
    return {h,y:(a.y+b.y)/2};
  })(tree);
  return out;
}

const grid=[],xAxis=[],yAxis=[],series=[],visualMap=[];
panels.forEach(p=>{
  const [hx0,hx1,hy0,hy1]=p.h, [cx0,cx1,cy0,cy1]=p.c;
  const n=p.r.length;
  // heat map
  let gi=grid.length;
  grid.push({left:hx0,top:hy0,width:hx1-hx0,height:hy1-hy0});
  xAxis.push({type:'category',gridIndex:gi,data:p.s,position:'bottom',axisLine:{show:false},axisTick:{show:false},splitLine:{show:false},
    axisLabel:{interval:0,rotate:45,margin:p.xm,color:'#1a1a1a',fontFamily:p.xf,fontWeight:'bold',fontSize:p.xs}});
  yAxis.push({type:'category',gridIndex:gi,data:p.r,inverse:true,position:'right',axisLine:{show:false},axisTick:{show:false},splitLine:{show:false},
    axisLabel:{interval:0,margin:4,color:'#1a1a1a',fontFamily:SERIF,fontWeight:'bold',fontSize:p.fs}});
  const data=[];
  p.v.forEach((row,y)=>row.forEach((val,x)=>data.push([x,y,val])));
  const si=series.length;
  series.push({type:'heatmap',xAxisIndex:gi,yAxisIndex:gi,data,progressive:0,animation:false,
    itemStyle:{borderColor:'rgba(255,255,255,.65)',borderWidth:1},emphasis:{disabled:true}});
  visualMap.push({type:'continuous',show:false,min:p.rg[0],max:p.rg[1],dimension:2,seriesIndex:si,
    inRange:{color:[ramp[0],'#91a2af',ramp[1],ramp[2],ramp[3]]}});
  // dendrogram
  gi=grid.length;
  grid.push({left:p.d,top:hy0,width:hx0-p.d,height:hy1-hy0});
  xAxis.push({type:'value',gridIndex:gi,min:0,max:1,inverse:true,show:false});
  yAxis.push({type:'value',gridIndex:gi,min:-.5,max:n-.5,inverse:true,show:false});
  series.push({type:'custom',xAxisIndex:gi,yAxisIndex:gi,data:dendroSegments(p.t),animation:false,silent:true,clip:false,
    encode:{x:[0,2],y:[1,3]},
    renderItem:(params,api)=>{
      const a=api.coord([api.value(0),api.value(1)]), b=api.coord([api.value(2),api.value(3)]);
      return {type:'line',shape:{x1:a[0],y1:a[1],x2:b[0],y2:b[1]},style:{stroke:'#222',lineWidth:1.2}};
    }});
  // colour bar
  gi=grid.length;
  grid.push({left:cx0,top:cy0,width:cx1-cx0,height:cy1-cy0});
  xAxis.push({type:'value',gridIndex:gi,min:0,max:1,show:false});
  yAxis.push({type:'value',gridIndex:gi,min:p.rg[0],max:p.rg[1],interval:p.iv,position:'right',splitLine:{show:false},
    axisLine:{show:false},axisTick:{show:true,length:2,lineStyle:{color:'#333'}},
    axisLabel:{show:true,margin:2,lineHeight:8,color:'#1a1a1a',fontFamily:p.cf,fontWeight:'bold',fontSize:p.cs,formatter:v=>v.toFixed(2),showMinLabel:true,showMaxLabel:true}});
  series.push({type:'custom',xAxisIndex:gi,yAxisIndex:gi,data:[[0,p.rg[0],1,p.rg[1]]],animation:false,silent:true,
    encode:{x:[0,2],y:[1,3]},
    renderItem:(params,api)=>{
      const a=api.coord([api.value(0),api.value(3)]), b=api.coord([api.value(2),api.value(1)]);
      return {type:'rect',shape:{x:a[0],y:a[1],width:b[0]-a[0],height:b[1]-a[1]},
        style:{fill:new echarts.graphic.LinearGradient(0,0,0,1,rampStops)}};
    }});
});

const headings=[["Esters",555,20,20],["Alcohol",492,455,20],["Hydrocarbon",491,842,18],["Ketone",457,1228,20]];
const letters=[["A",65,43],["B",644,41],["C",80,487],["D",666,469],["E",88,865],["F",604,856],["G",89,1287],["H",646,1287]];
const captions=[["Pear wine",214,1670,32],["Rose pear wine",782,1658,34]];
const title=[];
headings.forEach(([text,x,y,s])=>title.push({text,left:x,top:y,textAlign:'center',textVerticalAlign:'middle',padding:0,textStyle:{fontFamily:SERIF,fontWeight:'bold',fontSize:s,color:'#111'}}));
letters.forEach(([text,x,y])=>title.push({text,left:x,top:y,textAlign:'center',textVerticalAlign:'middle',padding:0,textStyle:{fontFamily:SERIF,fontWeight:'bold',fontSize:19,color:'#111'}}));
captions.forEach(([text,x,y,s])=>title.push({text,left:x,top:y,textAlign:'center',textVerticalAlign:'middle',padding:0,textStyle:{fontFamily:SERIF,fontWeight:'normal',fontSize:s,color:'#111'}}));

const chart=echarts.init(document.getElementById('c'),null,{renderer:'canvas',width:1197,height:1686});
chart.setOption({animation:false,backgroundColor:'#fff',title,grid,xAxis,yAxis,visualMap,series});
</script></body></html>
